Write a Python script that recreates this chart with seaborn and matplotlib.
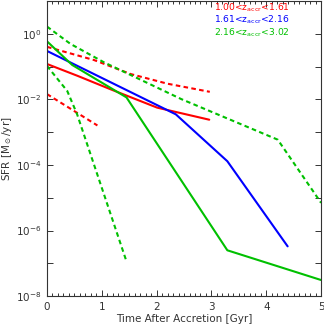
import numpy as np
import matplotlib
matplotlib.use("Agg")
import matplotlib.pyplot as plt
import matplotlib.ticker as mticker
import seaborn as sns

# time after accretion [Gyr] and SFR [Msun/yr]
red_solid_t = [0.0, 0.56, 1.17, 2.01, 2.96]
red_solid_sfr = [0.12, 0.052, 0.020, 0.0056, 0.0024]
red_hi_t = [0.0, 0.86, 1.53, 2.2, 2.97]
red_hi_sfr = [0.40, 0.158, 0.059, 0.030, 0.017]
red_lo_t = [0.0, 0.92]
red_lo_sfr = [0.0145, 0.0016]

blue_solid_t = [0.0, 2.35, 3.29, 4.39]
blue_solid_sfr = [0.30, 0.0035, 1.3e-4, 3.3e-7]

green_solid_t = [0.0, 0.46, 1.45, 3.29, 5.0]
green_solid_sfr = [0.59, 0.112, 0.0115, 2.5e-7, 3.1e-8]
green_hi_t = [0.0, 0.43, 1.04, 2.45, 4.21, 5.0]
green_hi_sfr = [1.66, 0.49, 0.135, 0.0102, 5.9e-4, 7e-6]
green_lo_t = [0.0, 0.37, 0.55, 1.45]
green_lo_sfr = [0.105, 0.018, 0.0035, 1.15e-7]

bin_labels = [r"1.00<z$_{\rm accr}$<1.61",
              r"1.61<z$_{\rm accr}$<2.16",
              r"2.16<z$_{\rm accr}$<3.02"]
bin_colors = ["#ff0000", "#0000ff", "#00c000"]

sns.set_style("ticks")
plt.rcParams['font.family'] = ['DejaVu Sans']
plt.rcParams['mathtext.default'] = 'regular'

fig = plt.figure(figsize=(3.24, 3.32), dpi=100)
ax = fig.add_axes([0.145, 0.108, 0.846, 0.889])

lw = 1.5
dash = (2.2, 1.6)
sns.lineplot(x=red_hi_t, y=red_hi_sfr, ax=ax, color=bin_colors[0], lw=lw, dashes=dash)
sns.lineplot(x=red_lo_t, y=red_lo_sfr, ax=ax, color=bin_colors[0], lw=lw, dashes=dash)
sns.lineplot(x=green_hi_t, y=green_hi_sfr, ax=ax, color=bin_colors[2], lw=lw, dashes=dash)
sns.lineplot(x=green_lo_t, y=green_lo_sfr, ax=ax, color=bin_colors[2], lw=lw, dashes=dash)
sns.lineplot(x=red_solid_t, y=red_solid_sfr, ax=ax, color=bin_colors[0], lw=lw)
sns.lineplot(x=blue_solid_t, y=blue_solid_sfr, ax=ax, color=bin_colors[1], lw=lw)
sns.lineplot(x=green_solid_t, y=green_solid_sfr, ax=ax, color=bin_colors[2], lw=lw)

ax.set_yscale("log")
ax.set_xlim(0, 5)
ax.set_ylim(1e-8, 10)

ax.xaxis.set_major_locator(mticker.MultipleLocator(1))
ax.xaxis.set_minor_locator(mticker.MultipleLocator(0.1))
ax.yaxis.set_major_locator(mticker.FixedLocator([1e-8, 1e-6, 1e-4, 1e-2, 1e0]))
ax.yaxis.set_minor_locator(mticker.FixedLocator([1e-7, 1e-5, 1e-3, 1e-1, 1e1]))
ax.yaxis.set_minor_formatter(mticker.NullFormatter())

ax.tick_params(which="both", direction="in", top=True, right=True,
               labelsize=7.5, colors="#333333", width=0.7)
ax.tick_params(which="major", length=4, pad=4)
ax.tick_params(axis="y", which="minor", length=4)
ax.tick_params(axis="x", which="minor", length=2)
for s in ax.spines.values():
    s.set_linewidth(0.8)
    s.set_color("#333333")

ax.set_xlabel("Time After Accretion [Gyr]", fontsize=7.5, color="#333333", labelpad=2)
ax.set_ylabel(r"SFR [M$_\odot$/yr]", fontsize=7.5, color="#333333", labelpad=1)

for i, (lab, c) in enumerate(zip(bin_labels, bin_colors)):
    ax.text(0.61, 0.978 - i * 0.043, lab, transform=ax.transAxes,
            color=c, fontsize=6.6, va="center", ha="left")

fig.savefig("out.png", dpi=100)
